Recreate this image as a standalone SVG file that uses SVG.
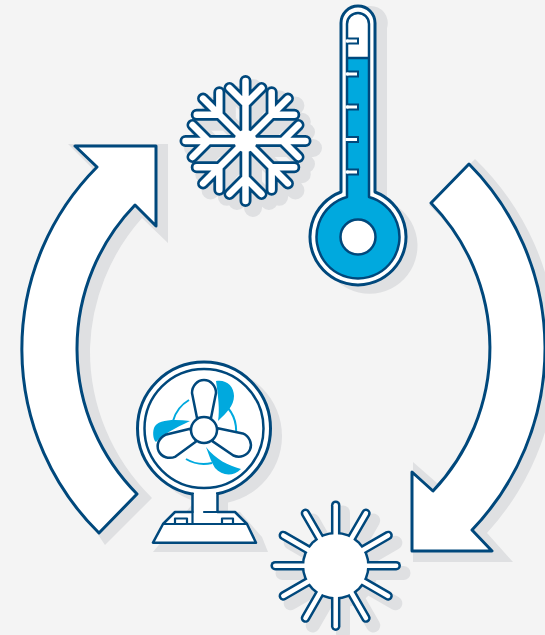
<svg xmlns="http://www.w3.org/2000/svg" xmlns:xlink="http://www.w3.org/1999/xlink" width="545" height="635" viewBox="0 0 545 635">
<style>
.sh{fill:#dfe0e2;stroke:none}
.ol{fill:#fff;stroke:#00487c;stroke-width:3;stroke-linejoin:round;stroke-linecap:round}
.th{stroke-width:2.500}
.bl{fill:#00a9de;stroke:none}
.cy{fill:none;stroke:#00a9de;stroke-width:2}
.sn{fill:none;stroke:#00487c;stroke-width:12;stroke-linecap:round;stroke-linejoin:round}
.sw{fill:none;stroke:#fff;stroke-width:6.500;stroke-linecap:round;stroke-linejoin:round}
.ss{fill:none;stroke:#dfe0e2;stroke-width:18;stroke-linecap:round;stroke-linejoin:round}
.rn{stroke:#00487c;stroke-width:9.500;stroke-linecap:round;fill:none}
.rw{stroke:#fff;stroke-width:4.500;stroke-linecap:round;fill:none}
.rs{stroke:#dfe0e2;stroke-width:14;stroke-linecap:round;fill:none}
</style>
<defs>
<path id="arm" d="M0 0V-60M0-37L-16-53M0-37L16-53"/>
<g id="flake">
<use xlink:href="#arm"/><use xlink:href="#arm" transform="rotate(45)"/><use xlink:href="#arm" transform="rotate(90)"/><use xlink:href="#arm" transform="rotate(135)"/><use xlink:href="#arm" transform="rotate(180)"/><use xlink:href="#arm" transform="rotate(225)"/><use xlink:href="#arm" transform="rotate(270)"/><use xlink:href="#arm" transform="rotate(315)"/>
</g>
<path id="ray" d="M0-30V-60.500"/>
<g id="rays">
<use xlink:href="#ray"/><use xlink:href="#ray" transform="rotate(30)"/><use xlink:href="#ray" transform="rotate(60)"/><use xlink:href="#ray" transform="rotate(90)"/><use xlink:href="#ray" transform="rotate(120)"/><use xlink:href="#ray" transform="rotate(150)"/><use xlink:href="#ray" transform="rotate(180)"/><use xlink:href="#ray" transform="rotate(210)"/><use xlink:href="#ray" transform="rotate(240)"/><use xlink:href="#ray" transform="rotate(270)"/><use xlink:href="#ray" transform="rotate(300)"/><use xlink:href="#ray" transform="rotate(330)"/>
</g>
<path id="blade" d="M-7-12L-12-37A12 13 0 0 1 12-37L7-12Z"/>
</defs>
<rect width="545" height="635" fill="#f4f4f4"/>
<g id="connectors">
<path class="sh" d="M475 159A268 268 0 0 1 487 533L513 562H413V462L437 483L445 485L490 420L495 349A212 212 0 0 0 429 205Z"/>
<path class="sh" d="M68 144H168V243L142 218A206 206 0 0 0 90 348A206 206 0 0 0 152 498L105 545L95 530L60 349L92 168Z"/>
<path class="ol" d="M469 164A262 262 0 0 1 472 530L492 551H412V472L433 491A208 208 0 0 0 431 203Z"/>
<path class="ol" d="M75 146H156V226L135 205A206.500 206.500 0 0 0 137 494L99 533A258 258 0 0 1 97 167Z"/>
</g>
<g id="thermometer">
<path class="sh" d="M355 6H370A17 17 0 0 1 387 28V201A48 48 0 1 1 352 201Z"/>
<path class="ol" d="M341 192V23A17 17 0 0 1 375 23V192A48 48 0 1 1 341 192Z"/>
<path class="bl" d="M347 58H369V197A41.500 41.500 0 1 1 347 197Z"/>
<path class="ol th" style="fill:none" d="M347 197V24A11 11 0 0 1 369 24V197A41.500 41.500 0 1 1 347 197ZM347 58H369"/>
<g fill="#fff" stroke="#00487c" stroke-width="2">
<path d="M347 38.500H358V43.500H347"/><path d="M347 71.500H358V76.500H347"/><path d="M347 104.500H358V109.500H347"/><path d="M347 137H358V142H347"/><path d="M347 169.500H358V174.500H347"/>
</g>
<rect x="345.500" y="39.500" width="3" height="3" fill="#fff"/><rect x="345.500" y="72.500" width="3" height="3" fill="#fff"/><rect x="345.500" y="105.500" width="3" height="3" fill="#fff"/><rect x="345.500" y="138" width="3" height="3" fill="#fff"/><rect x="345.500" y="170.500" width="3" height="3" fill="#fff"/>
<circle class="ol th" cx="358" cy="237" r="17.500"/>
</g>
<g id="snowflake">
<use xlink:href="#flake" class="ss" transform="translate(253 148)"/>
<use xlink:href="#flake" class="sn" transform="translate(245.500 141)"/>
<use xlink:href="#flake" class="sw" transform="translate(245.500 141)"/>
<circle cx="245.500" cy="141" r="11" fill="#fff"/>
</g>
<g id="sun">
<circle cx="343" cy="573" r="34" fill="#dfe0e2"/>
<use xlink:href="#rays" class="rs" transform="translate(343 573)"/>
<circle cx="335.700" cy="565.700" r="34" fill="#00487c"/>
<use xlink:href="#rays" class="rn" transform="translate(335.700 565.700)"/>
<use xlink:href="#rays" class="rw" transform="translate(335.700 565.700)"/>
<circle cx="335.700" cy="565.700" r="31.500" fill="#fff"/>
</g>
<g id="fan">
<circle class="sh" cx="214" cy="436" r="68"/>
<path class="sh" d="M204 490H228V512H240L262 537L268 552H153Z"/>
<circle class="ol" cx="204" cy="428.500" r="66.500"/>
<circle class="ol th" cx="204" cy="428.500" r="59.500"/>
<path class="ol" style="stroke-width:2.500" d="M192.500 494V512H175L163 524L153 542.700H256L247 524L235 512H217.500V494"/>
<rect x="194" y="491" width="22" height="20" fill="#fff"/>
<path class="ol" style="fill:none;stroke-width:2.200" d="M192.500 512V524M163 524H247M204 512H217.500M175 524V518.500H187V524M222 524V518.500H233V524"/>
<path class="cy" d="M189 400A35 35 0 0 0 173 421M228 408A35 35 0 0 1 233 445M186 459A35 35 0 0 0 212 463"/>
<path class="bl" d="M216 381C226 379 234 386 234 396C234 406 226 413 218 421C220 410 218 395 216 381ZM190 421C175 419 157 419 154 428C152 434 154 441 156 442C162 435 175 428 190 421ZM206 447C216 460 228 465 241 469C233 477 222 476 215 468C211 462 209 455 206 447Z"/>
<use xlink:href="#blade" class="ol th" transform="translate(204 430)"/>
<use xlink:href="#blade" class="ol th" transform="translate(204 430) rotate(113)"/>
<use xlink:href="#blade" class="ol th" transform="translate(204 430) rotate(-115)"/>
<circle class="ol th" cx="204" cy="430" r="13"/>
</g>
</svg>
